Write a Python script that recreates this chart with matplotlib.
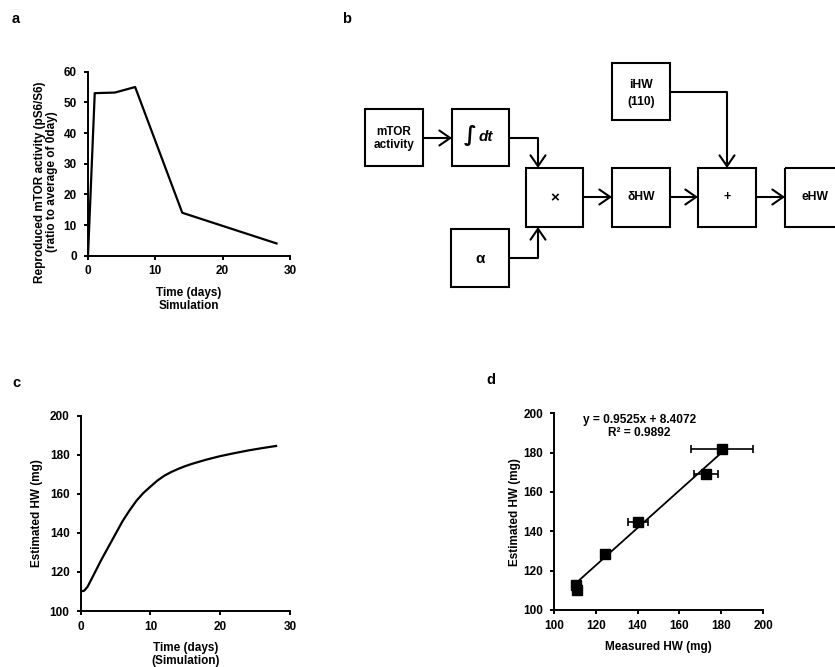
import matplotlib
matplotlib.use("Agg")
import matplotlib.pyplot as plt
from matplotlib.patches import Rectangle, FancyArrowPatch
import numpy as np

plt.rcParams['font.family'] = ['Liberation Sans', 'DejaVu Sans']
plt.rcParams['font.weight'] = 'bold'
plt.rcParams['font.size'] = 8.5

# panel a: reproduced mTOR activity
a_days = [0, 1, 4, 7, 14, 28]
a_mtor = [0, 53, 53.2, 55, 14, 4]

# panel c: simulated heart weight
c_days = [0, 0.5, 1, 2, 3, 4, 5, 6, 7, 8, 9, 10, 11, 12, 13, 14, 15, 16,
          18, 20, 22, 24, 26, 28]
c_hw = [110, 110.4, 112.5, 119.5, 126.5, 133, 139.5, 146, 151.5, 156.5,
        160.5, 163.7, 166.8, 169.3, 171.2, 172.8, 174.2, 175.4,
        177.5, 179.3, 180.8, 182.2, 183.4, 184.5]

# panel d: measured vs estimated
d_meas = [110.4, 110.9, 124.6, 140.2, 172.9, 180.4]
d_est = [112.7, 110.2, 128.5, 144.9, 169.2, 181.7]
d_err = [0, 0, 0, 4.8, 5.8, 15]
fit_slope = 0.9525
fit_icpt = 8.4072
fit_r2 = 0.9892

W, H = 835, 667
fig = plt.figure(figsize=(W / 100, H / 100), dpi=100)


def px_axes(x0, x1, ytop, ybot):
    return fig.add_axes([x0 / W, 1 - ybot / H, (x1 - x0) / W, (ybot - ytop) / H])


def style(ax):
    for s in ['top', 'right']:
        ax.spines[s].set_visible(False)
    for s in ['left', 'bottom']:
        ax.spines[s].set_linewidth(1.4)
    ax.tick_params(direction='out', length=3, width=1.4, labelsize=8.5)
    ax.tick_params(axis='x', pad=4)
    ax.tick_params(axis='y', pad=5)
    for lbl in ax.get_xticklabels() + ax.get_yticklabels():
        lbl.set_fontweight('bold')


# ---- panel b diagram (pixel coordinates over the whole figure)
dg = fig.add_axes([0, 0, 1, 1])
dg.set_xlim(0, W)
dg.set_ylim(H, 0)
dg.axis('off')
dg.patch.set_alpha(0)

boxes = [
    (365, 109, 423, 166), (452, 109, 509, 166),
    (526, 168, 583, 227), (612, 168, 670, 227),
    (698, 168, 756, 227), (785, 168, 843, 227),
    (612, 63, 670, 120), (451, 229, 509, 287),
]
for x0, y0, x1, y1 in boxes:
    dg.add_patch(Rectangle((x0, y0), x1 - x0, y1 - y0, fill=False,
                           lw=1.5, ec='black', clip_on=False))

def arrow(pts):
    xs, ys = zip(*pts)
    if len(pts) > 2:
        dg.plot(xs[:-1], ys[:-1], color='black', lw=1.5, solid_capstyle='butt')
    dg.add_patch(FancyArrowPatch(pts[-2], pts[-1],
                                 arrowstyle='->,head_length=0.65,head_width=0.45',
                                 mutation_scale=12, lw=1.5, color='black',
                                 shrinkA=0, shrinkB=0))

arrow([(423, 138), (452, 138)])
arrow([(509, 138), (538, 138), (538, 168)])
arrow([(670, 92), (727, 92), (727, 168)])
arrow([(509, 258), (538, 258), (538, 227)])
arrow([(583, 197), (612, 197)])
arrow([(670, 197), (698, 197)])
arrow([(756, 197), (785, 197)])

dg.text(394, 138.5, 'mTOR\nactivity', ha='center', va='center', fontsize=8.5,
        fontweight='bold', linespacing=1.05)
dg.text(470.5, 136, '∫', ha='center', va='center', fontsize=15, family='DejaVu Sans')
dg.text(486, 137, 'dt', ha='center', va='center', fontsize=11,
        fontweight='bold', style='italic')
dg.text(555, 198, '×', ha='center', va='center', fontsize=11, fontweight='bold')
dg.text(641, 197, 'δHW', ha='center', va='center', fontsize=8.7, fontweight='bold')
dg.text(727, 197, '+', ha='center', va='center', fontsize=9, fontweight='bold')
dg.text(815, 197, 'eHW', ha='center', va='center', fontsize=8.7, fontweight='bold')
dg.text(641, 93.5, 'iHW\n(110)', ha='center', va='center', fontsize=8.7,
        fontweight='bold', linespacing=1.45)
dg.text(480, 259, 'α', ha='center', va='center', fontsize=11, fontweight='bold')

for lab, x, y in [('a', 16, 19), ('b', 347, 19), ('c', 16, 383), ('d', 491, 380)]:
    dg.text(x, y, lab, ha='center', va='center', fontsize=10.5, fontweight='bold')

# ---- panel a
ax_a = px_axes(88, 290, 71.7, 255.7)
ax_a.plot(a_days, a_mtor, color='black', lw=1.6)
ax_a.set_xlim(0, 30)
ax_a.set_ylim(0, 60)
ax_a.set_xticks([0, 10, 20, 30])
ax_a.set_yticks([0, 10, 20, 30, 40, 50, 60])
ax_a.set_xlabel('Time (days)\nSimulation', fontweight='bold', labelpad=7,
                linespacing=1.05)
ax_a.set_ylabel('Reproduced mTOR activity (pS6/S6)\n(ratio to average of 0day)',
                fontweight='bold', linespacing=1.05)
ax_a.yaxis.set_label_coords(-30 / 202, 0.40)
style(ax_a)

# ---- panel c
ax_c = px_axes(80.7, 290, 415.7, 611)
ax_c.plot(c_days, c_hw, color='black', lw=1.6)
ax_c.set_xlim(0, 30)
ax_c.set_ylim(100, 200)
ax_c.set_xticks([0, 10, 20, 30])
ax_c.set_yticks([100, 120, 140, 160, 180, 200])
ax_c.set_xlabel('Time (days)\n(Simulation)', fontweight='bold', labelpad=7,
                linespacing=1.05)
ax_c.set_ylabel('Estimated HW (mg)', fontweight='bold', labelpad=5)
style(ax_c)

# ---- panel d
ax_d = px_axes(554, 763, 413.3, 610)
fx = np.array([min(d_meas), max(d_meas)])
ax_d.plot(fx, fit_slope * fx + fit_icpt, color='black', lw=1.3)
ax_d.errorbar(d_meas, d_est, xerr=d_err, fmt='s', color='black', ms=7,
              ecolor='black', elinewidth=1.2, capsize=3, capthick=1.2)
ax_d.set_xlim(100, 200)
ax_d.set_ylim(100, 200)
ax_d.set_xticks([100, 120, 140, 160, 180, 200])
ax_d.set_yticks([100, 120, 140, 160, 180, 200])
ax_d.set_xlabel('Measured HW (mg)', fontweight='bold', labelpad=7)
ax_d.set_ylabel('Estimated HW (mg)', fontweight='bold', labelpad=1.5)
ax_d.text(0.41, 0.997, f'y = {fit_slope}x + {fit_icpt}\nR² = {fit_r2}',
          transform=ax_d.transAxes, ha='center', va='top', fontsize=8.6,
          fontweight='bold', linespacing=1.1)
style(ax_d)

fig.savefig('out.png', dpi=100)
